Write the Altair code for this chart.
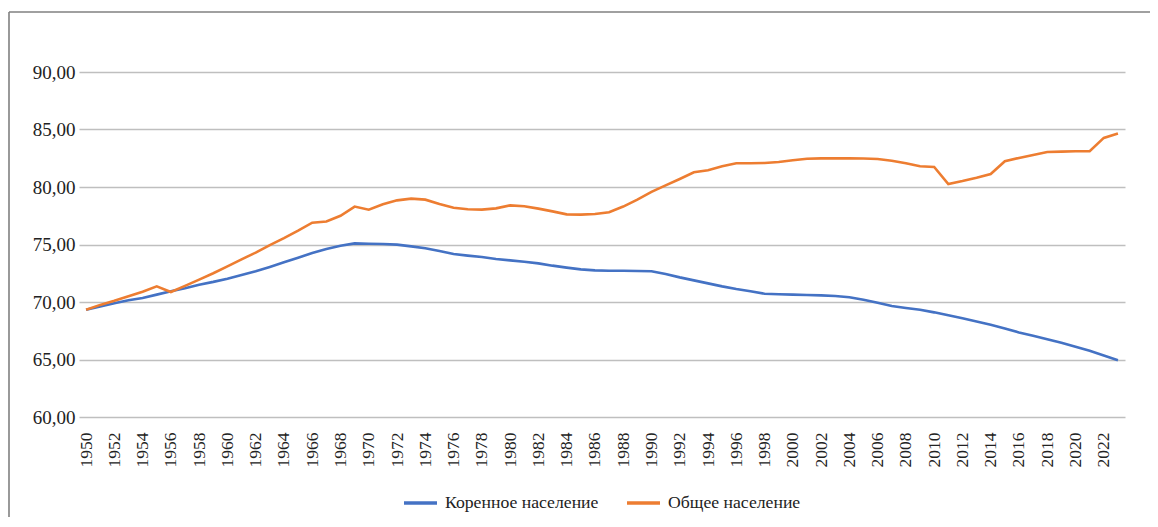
import altair as alt
import pandas as pd

years = list(range(1950, 2024))

indigenous = [
    69.33, 69.60, 69.90, 70.15, 70.35, 70.64, 70.93, 71.20, 71.50, 71.75,
    72.03, 72.35, 72.67, 73.05, 73.45, 73.85, 74.26, 74.60, 74.90, 75.10,
    75.07, 75.04, 74.99, 74.84, 74.67, 74.43, 74.17, 74.03, 73.91, 73.74,
    73.62, 73.50, 73.36, 73.16, 72.99, 72.84, 72.75, 72.72, 72.72, 72.70,
    72.68, 72.43, 72.14, 71.88, 71.62, 71.36, 71.13, 70.93, 70.72, 70.67,
    70.64, 70.61, 70.58, 70.52, 70.41, 70.20, 69.94, 69.65, 69.48, 69.33,
    69.10, 68.84, 68.58, 68.31, 68.02, 67.70, 67.35, 67.06, 66.77, 66.45,
    66.10, 65.76, 65.35, 64.94,
]

total = [
    69.33, 69.75, 70.10, 70.50, 70.90, 71.36, 70.87, 71.40, 71.95, 72.50,
    73.10, 73.70, 74.30, 74.95, 75.55, 76.20, 76.90, 77.00, 77.50, 78.30,
    78.03, 78.50, 78.84, 78.99, 78.90, 78.52, 78.20, 78.06, 78.03, 78.14,
    78.40, 78.32, 78.12, 77.88, 77.62, 77.60, 77.65, 77.80, 78.30, 78.90,
    79.57, 80.14, 80.70, 81.28, 81.45, 81.80, 82.06, 82.06, 82.09, 82.17,
    82.32, 82.46, 82.49, 82.49, 82.49, 82.48, 82.43, 82.28, 82.06, 81.80,
    81.74, 80.26, 80.52, 80.81, 81.13, 82.24, 82.53, 82.79, 83.05, 83.08,
    83.11, 83.11, 84.27, 84.65,
]

series_names = ["Коренное население", "Общее население"]
series_colors = ["#4472C4", "#ED7D31"]
y_ticks = [60, 65, 70, 75, 80, 85, 90]
x_label_years = [y for y in years if y % 2 == 0]

rows = []
for y, v in zip(years, indigenous):
    rows.append({"year": y, "value": v, "series": series_names[0]})
for y, v in zip(years, total):
    rows.append({"year": y, "value": v, "series": series_names[1]})
df = pd.DataFrame(rows)

FONT = "Liberation Serif"

lines = alt.Chart(df).mark_line(strokeWidth=2.6).encode(
    x=alt.X(
        "year:O",
        scale=alt.Scale(type="point", padding=0.5),
        axis=alt.Axis(
            title=None,
            values=x_label_years,
            labelAngle=270,
            labelFont=FONT,
            labelFontSize=17.5,
            labelColor="#222222",
            labelPadding=15,
            ticks=False,
            domain=False,
            grid=False,
        ),
    ),
    y=alt.Y(
        "value:Q",
        scale=alt.Scale(domain=[60, 90], nice=False, zero=False),
        axis=alt.Axis(
            title=None,
            values=y_ticks,
            labelExpr="replace(format(datum.value, '.2f'), '.', ',')",
            labelFont=FONT,
            labelFontSize=19,
            labelColor="#222222",
            labelPadding=4,
            ticks=False,
            domain=False,
            grid=True,
            gridColor="#bfbfbf",
            gridWidth=1.3,
        ),
    ),
    color=alt.Color(
        "series:N",
        scale=alt.Scale(domain=series_names, range=series_colors),
        legend=alt.Legend(
            title=None,
            orient="none",
            direction="horizontal",
            legendX=323,
            legendY=412,
            symbolType="stroke",
            symbolSize=1089,
            symbolStrokeWidth=3.5,
            labelFont=FONT,
            labelFontSize=17.7,
            labelColor="#222222",
            labelOffset=6,
            columnPadding=21,
        ),
    ),
    order=alt.Order("year:O"),
)

frame_df = pd.DataFrame({"k": [0]})
frame_top = alt.Chart(frame_df).mark_rule(color="#808080", strokeWidth=1.6).encode(
    x=alt.value(-70), x2=alt.value(1200), y=alt.value(-60)
)
frame_left = alt.Chart(frame_df).mark_rule(color="#808080", strokeWidth=1.6).encode(
    x=alt.value(-70), y=alt.value(-60), y2=alt.value(600)
)

chart = alt.layer(frame_top, frame_left, lines).properties(
    width=1046,
    height=345,
    autosize="none",
    padding={"left": 71, "top": 64, "right": 25, "bottom": 100},
    background="white",
).configure_view(stroke=None)

chart.save("out.html", embed_options={"renderer": "svg", "actions": False})
